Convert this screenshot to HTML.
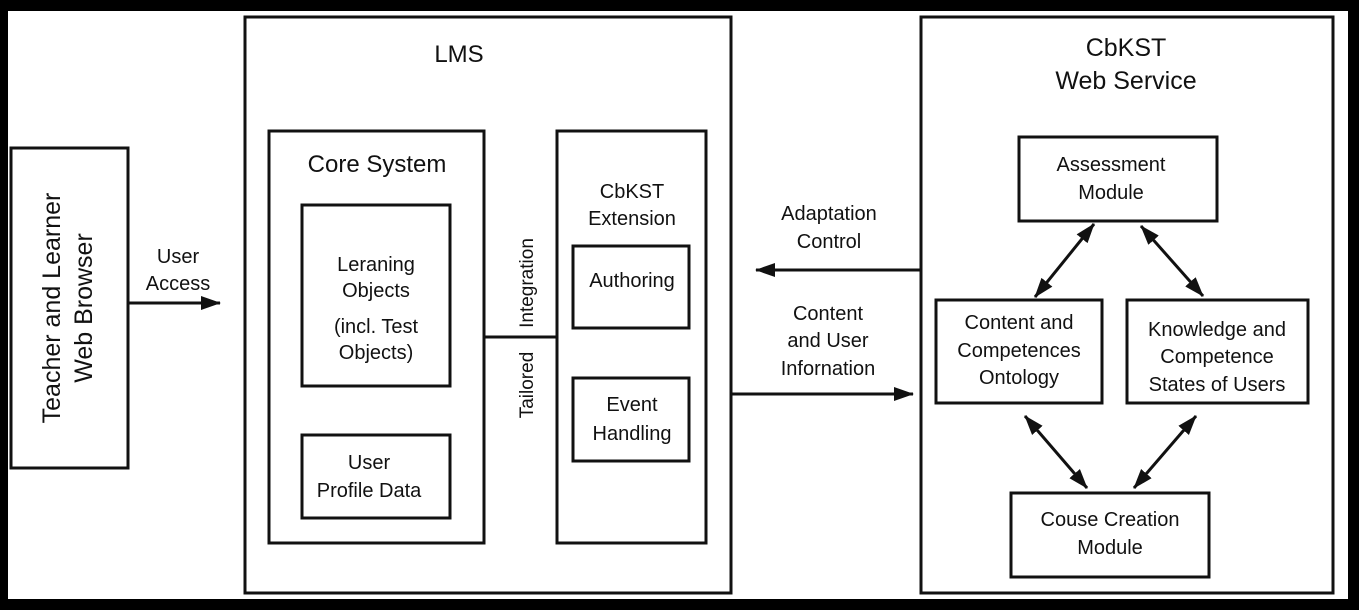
<!DOCTYPE html>
<html><head><meta charset="utf-8"><style>
body{margin:0;background:#000;}
svg{display:block}
text{font-family:"Liberation Sans",Arial,sans-serif;fill:#111;text-anchor:middle}
</style></head><body>
<svg width="1359" height="610" viewBox="0 0 1359 610" xmlns="http://www.w3.org/2000/svg">
<defs>
<marker id="b" markerWidth="20" markerHeight="14" refX="19" refY="7" orient="auto-start-reverse" markerUnits="userSpaceOnUse"><path d="M0,0 L20,7 L0,14 z" fill="#111"/></marker></defs>
<rect x="8" y="11" width="1340" height="588" fill="#fff"/>
<g fill="none" stroke="#111" stroke-width="3">
<rect x="11" y="148" width="117" height="320"/>
<rect x="245" y="17" width="486" height="576"/>
<rect x="269" y="131" width="215" height="412"/>
<rect x="302" y="205" width="148" height="181"/>
<rect x="302" y="435" width="148" height="83"/>
<rect x="557" y="131" width="149" height="412"/>
<rect x="573" y="246" width="116" height="82"/>
<rect x="573" y="378" width="116" height="83"/>
<line x1="484" y1="337" x2="557" y2="337"/>
<rect x="921" y="17" width="412" height="576"/>
<rect x="1019" y="137" width="198" height="84"/>
<rect x="936" y="300" width="166" height="103"/>
<rect x="1127" y="300" width="181" height="103"/>
<rect x="1011" y="493" width="198" height="84"/>
</g>
<g stroke="#111" stroke-width="3" fill="none">
<line x1="128" y1="303" x2="220" y2="303" marker-end="url(#b)"/>
<line x1="920" y1="270" x2="756" y2="270" marker-end="url(#b)"/>
<line x1="731" y1="394" x2="913" y2="394" marker-end="url(#b)"/>
<line x1="1094" y1="224" x2="1035" y2="297" marker-start="url(#b)" marker-end="url(#b)"/>
<line x1="1141" y1="226" x2="1203" y2="296" marker-start="url(#b)" marker-end="url(#b)"/>
<line x1="1025" y1="416" x2="1087" y2="488" marker-start="url(#b)" marker-end="url(#b)"/>
<line x1="1196" y1="416" x2="1134" y2="488" marker-start="url(#b)" marker-end="url(#b)"/>
</g>
<g font-size="20">
<text transform="translate(68,308) rotate(-90)" font-size="25"><tspan x="0" y="-8">Teacher and Learner</tspan><tspan x="0" y="24">Web Browser</tspan></text>
<text x="178" y="263">User</text><text x="178" y="290">Access</text>
<text x="459" y="62" font-size="24">LMS</text>
<text x="377" y="172" font-size="24">Core System</text>
<text x="376" y="271">Leraning</text><text x="376" y="297">Objects</text>
<text x="376" y="333">(incl. Test</text><text x="376" y="359">Objects)</text>
<text x="369" y="469">User</text><text x="369" y="497">Profile Data</text>
<text x="632" y="198">CbKST</text>
<text x="632" y="225">Extension</text>
<text x="632" y="287">Authoring</text>
<text x="632" y="411">Event</text><text x="632" y="440">Handling</text>
<text transform="translate(533,335) rotate(-90)" font-size="19"><tspan x="-50" y="0">Tailored</tspan><tspan x="52" y="0">Integration</tspan></text>
<text x="829" y="220">Adaptation</text><text x="829" y="248">Control</text>
<text x="828" y="320">Content</text><text x="828" y="347">and User</text><text x="828" y="375">Infornation</text>
<text x="1126" y="56" font-size="25">CbKST</text><text x="1126" y="89" font-size="25">Web Service</text>
<text x="1111" y="171">Assessment</text><text x="1111" y="199">Module</text>
<text x="1019" y="329">Content and</text><text x="1019" y="357">Competences</text><text x="1019" y="384">Ontology</text>
<text x="1217" y="336">Knowledge and</text><text x="1217" y="363">Competence</text><text x="1217" y="391">States of Users</text>
<text x="1110" y="526">Couse Creation</text><text x="1110" y="554">Module</text>
</g>
</svg>
</body></html>
